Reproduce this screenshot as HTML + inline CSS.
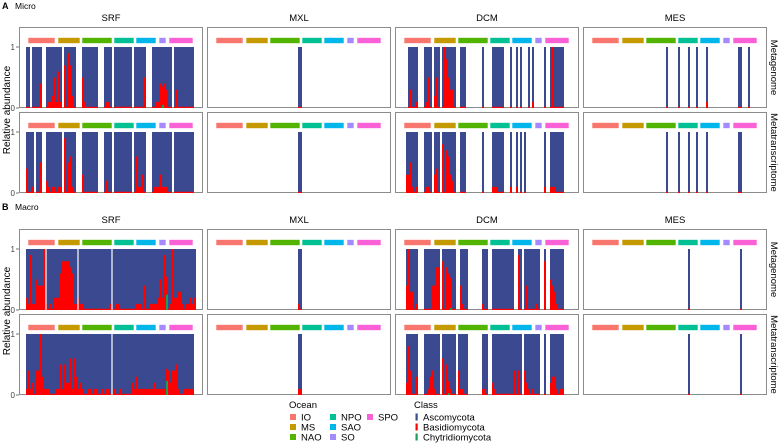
<!DOCTYPE html>
<html><head><meta charset="utf-8"><style>
html,body{margin:0;padding:0;background:#fff;}
svg{display:block;font-family:"Liberation Sans",sans-serif;}
</style></head><body>
<svg id="chart" width="778" height="443" viewBox="0 0 778 443" xmlns="http://www.w3.org/2000/svg">
<g id="labels">
<text x="2" y="9" font-size="9" font-weight="bold">A</text>
<text x="15" y="9" font-size="8.5">Micro</text>
<text x="2" y="210" font-size="9" font-weight="bold">B</text>
<text x="15" y="210" font-size="8.5">Macro</text>
<text transform="translate(10,110) rotate(-90)" text-anchor="middle" font-size="10">Relative abundance</text>
<text transform="translate(10,311) rotate(-90)" text-anchor="middle" font-size="10">Relative abundance</text>
</g>
<g id="plot"></g>
<g id="legend">
<text x="289" y="408" font-size="9.5">Ocean</text>
<text x="414" y="408" font-size="9.5">Class</text>
</g>
</svg>
<script>
// ---- data ----
var depths = ["SRF","MXL","DCM","MES"];
var rowLabels = ["Metagenome","Metatranscriptome","Metagenome","Metatranscriptome"];
var oceans = ["IO","MS","NAO","NPO","SAO","SO","SPO"];
var oceanColors = ["#F8766D","#C49A00","#53B400","#00C094","#00B6EB","#A58AFF","#FB61D7"];
var oceanStartSlot = [1,16,28,44,55,66.5,71.5];
var oceanEndSlot = [14.5,27,43,54,65,70,83.5];
var classes = ["Ascomycota","Basidiomycota","Chytridiomycota"];
var classColors = ["#3B4990","#FF0000","#1B9E5A"];
var yTicks = [0,1];
function D(n){return ".".repeat(n);}
// per-sample Basidiomycota fraction: '.' = no sample, '0' ~0.02, '1'-'9' tenths, 'a' = 1
var microSRF_MG = "00"+"."+"00"+"004"+".."+"01125161"+"."+"70"+"9720"+"..."+"510"+"00000"+"..."+"0110"+"."+"000000000"+"."+"000005"+"..."+"0011434300"+"."+"0300000000";
var microSRF_MT = "4001"+"."+"005"+".."+"21011011"+"."+"90"+"5610"+"..."+"300"+"00000"+"..."+"0200"+"."+"000000000"+"."+"061130"+"..."+"0111311100"+"."+"0000000000";
var microMXL_MG = D(42)+"00"+D(40);
var microMXL_MT = D(42)+"00"+D(40);
var microDCM_MG = "..."+"030"+"01"+"..."+"0150"+"."+"250"+"."+"0a"+"85330"+".."+"000"+D(8)+"0"+"...."+"000000"+"..."+"0"+".."+"0"+"."+"0"+"..."+"0"+"."+"1"+"....."+"0"+".."+"0a00000"+"...";
var microDCM_MT = ".."+"3351"+"01"+"..."+"0110"+"."+"340"+"."+"80"+"76320"+".."+"000"+D(8)+"0"+"...."+"111000"+"..."+"1"+".."+"1"+"."+"0"+"."+"0"+D(9)+"1"+".."+"1110000"+"...";
var microMES_MG = D(38)+"0"+D(5)+"0"+D(4)+"0"+D(3)+"0"+D(4)+"1"+D(15)+"00"+D(3)+"0"+D(4);
var microMES_MT = D(38)+"0"+D(5)+"0"+D(4)+"0"+D(3)+"0"+D(4)+"0"+D(15)+"00"+D(8);
var macroSRF_MG = "2191154 44a".replace(" ","").slice(0,10)+"1010222688887611"+"211000000000000010"+"01100000000"+"1110400"+"1111252930"+"1a22331011212";
var macroSRF_MT = "1412044a31"+"1100011515"+"2261631210"+"0110110010"+"110"+"0100100000"+"2131111111"+"1211111242"+"44510011111";
var macroMXL_MG = D(42)+"10"+D(40);
var macroMXL_MT = D(42)+"11"+D(40);
var macroDCM_MG = ".."+"4a33"+"01"+"..."+"00004"+"477"+"."+"80"+"76500"+".."+"4100"+D(7)+"100"+".."+"0000000"+"0000"+".."+"90"+"."+"04000010"+".."+"8"+".."+"5431000"+"...";
var macroDCM_MT = ".."+"2840"+"03"+"..."+"00134100"+"."+"60"+"52100"+"."+"41100"+D(7)+"110"+".."+"2100000"+"0000"+"40"+"40"+"."+"42101000"+".."+"0"+".."+"2331011"+"...";
var macroMES_MG = D(49)+"0"+D(25)+"0"+D(8);
var macroMES_MT = D(49)+"0"+D(25)+"0"+D(8);
var panelData = [
 [microSRF_MG,microMXL_MG,microDCM_MG,microMES_MG],
 [microSRF_MT,microMXL_MT,microDCM_MT,microMES_MT],
 [macroSRF_MG,macroMXL_MG,macroDCM_MG,macroMES_MG],
 [macroSRF_MT,macroMXL_MT,macroDCM_MT,macroMES_MT]
];
// Chytridiomycota values: [row, col, slot, value]
var greenRow = [0,2,3,2,3];
var greenCol = [0,0,0,2,2];
var greenSlot = [68,70,70,24,23];
var greenVal = [0.05,0.25,0.23,0.03,0.03];
// sample-group separators (white lines) in macro SRF
var sepRow = [2,2,2,3];
var sepCol = [0,0,0,0];
var sepSlot = [10,26,43,43];

// ---- layout ----
var NS="http://www.w3.org/2000/svg";
var colLeft=[19,207,395,583], panelW=184, rowTop=[27,112,229,314], panelH=81;
var slotW=2.0;
function xs(col,slot){return colLeft[col]+7+slot*slotW;}
function ys(row,v){return rowTop[row]+panelH-v*(panelH-20);}
function val(c){if(c==="a")return 1;if(c==="0")return 0.02;return parseInt(c,10)/10;}
function mk(tag,attrs,parent){var e=document.createElementNS(NS,tag);for(var k in attrs)e.setAttribute(k,attrs[k]);parent.appendChild(e);return e;}
var plot=document.getElementById("plot");
for(var r=0;r<4;r++){
 for(var c=0;c<4;c++){
  var g=mk("g",{},plot);
  
  
  var fr=mk("rect",{x:colLeft[c]+0.5,y:rowTop[r]+0.5,width:panelW-1,height:panelH-1,fill:"#fff",stroke:"#8c8c8c","stroke-width":1},g);
  
  
  for(var o=0;o<oceans.length;o++){
   var ob=mk("rect",{x:xs(c,oceanStartSlot[o]),y:rowTop[r]+10.5,width:(oceanEndSlot[o]-oceanStartSlot[o])*slotW,height:6,fill:oceanColors[o],stroke:"#fff","stroke-width":0.6},g);
   
   
  }
  var s=panelData[r][c];
  for(var i=0;i<s.length;i++){
   var ch=s[i]; if(ch===".")continue;
   var gv=0;
   for(var k=0;k<greenRow.length;k++){if(greenRow[k]===r&&greenCol[k]===c&&greenSlot[k]===i)gv=greenVal[k];}
   var rv=val(ch);
   var b=mk("rect",{x:xs(c,i),y:ys(r,1),width:slotW,height:ys(r,0)-ys(r,1),fill:classColors[0]},g);
   
   
   var rb=mk("rect",{x:xs(c,i),y:ys(r,gv+rv),width:slotW,height:ys(r,gv)-ys(r,gv+rv),fill:classColors[1]},g);
   
   
   if(gv>0){
    var gb=mk("rect",{x:xs(c,i),y:ys(r,gv),width:slotW,height:ys(r,0)-ys(r,gv),fill:classColors[2]},g);
    
    
   }
  }
  for(var q=0;q<sepRow.length;q++){
   if(sepRow[q]!==r||sepCol[q]!==c)continue;
   var sl=mk("line",{x1:xs(c,sepSlot[q]),x2:xs(c,sepSlot[q]),y1:ys(r,1),y2:ys(r,0),stroke:"#fff","stroke-width":1.2},g);
   
   
  }
  if(c===0){
   for(var t=0;t<yTicks.length;t++){
    var ty=ys(r,yTicks[t]);
    var tl=mk("line",{x1:colLeft[0]-3,x2:colLeft[0],y1:ty,y2:ty,stroke:"#555","stroke-width":0.8},g);
    
    
    var tt=mk("text",{x:colLeft[0]-4,y:ty+3,"text-anchor":"end","font-size":"8",fill:"#444"},g);
    tt.textContent=String(yTicks[t]);
    
    
   }
  }
  if(c===3){
   var rl=mk("text",{transform:"translate("+(colLeft[3]+panelW+4)+","+(rowTop[r]+panelH/2)+") rotate(90)","text-anchor":"middle","font-size":"9.5"},g);
   rl.textContent=rowLabels[r];
   
   
  }
  if(r===0||r===2){
   var st=mk("text",{x:colLeft[c]+panelW/2,y:rowTop[r]-6,"text-anchor":"middle","font-size":"9.5"},g);
   st.textContent=depths[c];
   
   
  }
 }
}
// ---- legend ----
var leg=document.getElementById("legend");
var ocX=[290,330,367], ocRow=[0,1,2,0,1,2,0], ocCol=[0,0,0,1,1,1,2];
for(var o=0;o<oceans.length;o++){
 var kx=ocX[ocCol[o]], ky=414+ocRow[o]*10;
 var kr=mk("rect",{x:kx,y:ky,width:6,height:6,fill:oceanColors[o]},leg);
 
 
 var kt=mk("text",{x:kx+11,y:ky+6.5,"font-size":"9.5"},leg);
 kt.textContent=oceans[o];
 
 
}
for(var k=0;k<classes.length;k++){
 var ky2=414+k*10;
 var cr=mk("rect",{x:415.5,y:ky2-0.5,width:2.2,height:7,fill:classColors[k]},leg);
 
 
 var ct=mk("text",{x:423,y:ky2+6.5,"font-size":"9.5"},leg);
 ct.textContent=classes[k];
 
 
}
</script>
</body></html>
